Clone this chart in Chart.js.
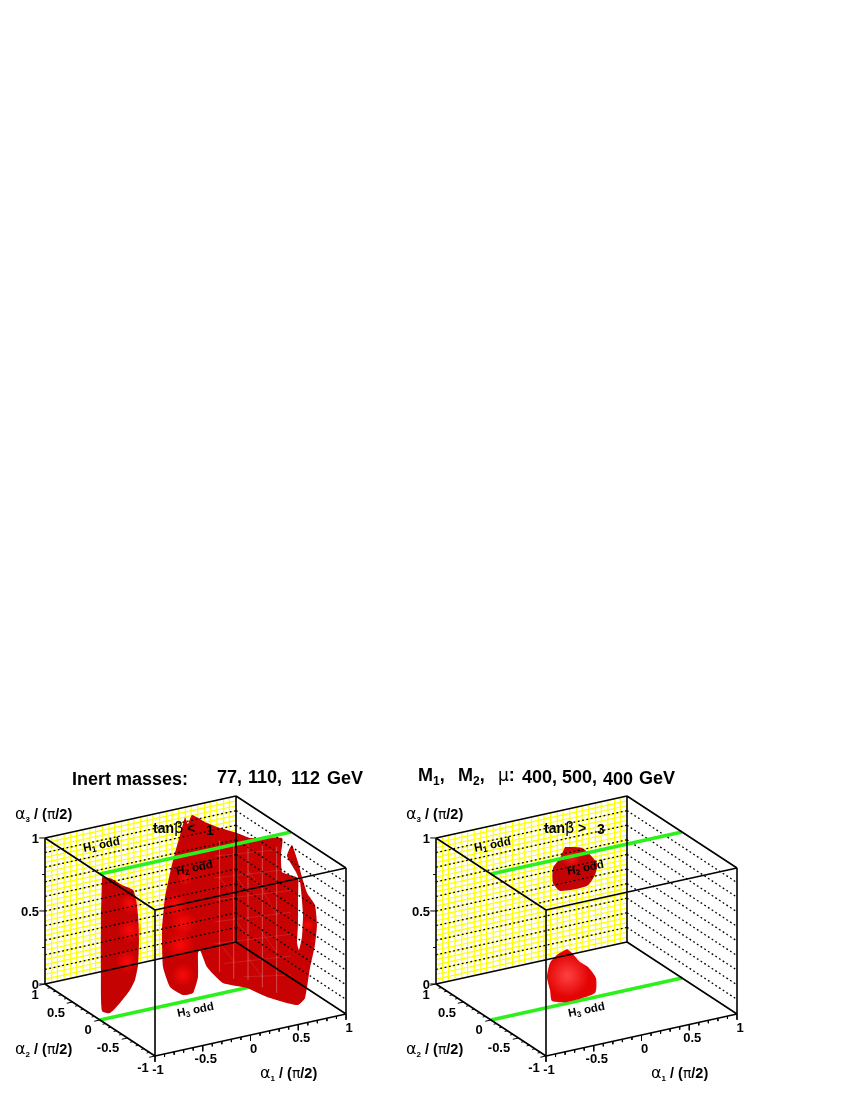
<!DOCTYPE html>
<html lang="en">

<head>
    <meta charset="UTF-8">
    <title>Inert masses</title>
    <script src="https://cdn.jsdelivr.net/npm/chart.js"></script>
    <style>
        body { margin: 0; background: #fff; }
        canvas { display: block; }
    </style>
</head>

<body>
    <canvas id="chart" width="845" height="1093"></canvas>

    <script>
        // axis ticks
        const a1Major = [-1, -0.5, 0, 0.5, 1];
        const a1Minor = [-0.9, -0.8, -0.7, -0.6, -0.4, -0.3, -0.2, -0.1, 0.1, 0.2, 0.3, 0.4, 0.6, 0.7, 0.8, 0.9];
        const a2Major = [-1, -0.5, 0, 0.5, 1];
        const a2Minor = [-0.9, -0.8, -0.7, -0.6, -0.4, -0.3, -0.2, -0.1, 0.1, 0.2, 0.3, 0.4, 0.6, 0.7, 0.8, 0.9];
        const a3Major = [0, 0.5, 1];
        const a3Minor = [0.25, 0.75];
        const a3Dotted = [0.1, 0.2, 0.3, 0.4, 0.5, 0.6, 0.7, 0.8, 0.9];
        const a1Labels = ['-1', '-0.5', '0', '0.5', '1'];
        const a2Labels = ['-1', '-0.5', '0', '0.5', '1'];
        const a3Labels = ['0', '0.5', '1'];

        // yellow wall grid
        const wallA1 = [-0.93, -0.87, -0.8, -0.73, -0.67, -0.6, -0.53, -0.47, -0.4, -0.33, -0.27, -0.2, -0.13, -0.07, 0, 0.07, 0.13, 0.2, 0.27, 0.33, 0.4, 0.47, 0.53, 0.6, 0.67, 0.73, 0.8, 0.87, 0.93];
        const wallA3 = [0.033, 0.067, 0.1, 0.133, 0.167, 0.2, 0.233, 0.267, 0.3, 0.333, 0.367, 0.4, 0.433, 0.467, 0.5, 0.533, 0.567, 0.6, 0.633, 0.667, 0.7, 0.733, 0.767, 0.8, 0.833, 0.867, 0.9, 0.933, 0.967];

        // allowed regions, [alpha1, alpha3] read on the alpha2 = 0 plane
        const leftBlobA = [[-0.979, 0.976], [-0.874, 0.948], [-0.77, 0.892], [-0.654, 0.841], [-0.623, 0.768], [-0.602, 0.662], [-0.592, 0.489], [-0.602, 0.319], [-0.634, 0.221], [-0.686, 0.16], [-0.791, 0.086], [-0.895, 0.033], [-0.979, 0.059], [-0.99, 0.341], [-0.99, 0.683]];
        const leftBlobB = [[-0.11, 1.262], [-0.079, 1.21], [-0.037, 1.265], [0.099, 1.198], [0.225, 1.146], [0.435, 1.074], [0.571, 1.021], [0.906, 0.972], [0.895, 0.857], [0.906, 0.739], [0.99, 0.707], [1.073, 0.674], [1.073, 0.524], [1.073, 0.352], [1.063, 0.231], [1.084, 0.18], [1.115, 0.264], [1.126, 0.413], [1.105, 0.588], [1.094, 0.644], [1.052, 0.718], [0.958, 0.842], [1.01, 0.909], [1.073, 0.784], [1.115, 0.675], [1.168, 0.558], [1.251, 0.464], [1.272, 0.324], [1.251, 0.19], [1.199, 0.04], [1.147, -0.158], [1.073, -0.196], [0.916, -0.152], [0.749, -0.094], [0.539, -0.002], [0.288, 0.068], [0.12, 0.202], [0.047, 0.329], [0.026, 0.311], [0.026, 0.147], [-0.026, 0.045], [-0.131, 0.046], [-0.267, 0.121], [-0.34, 0.268], [-0.351, 0.523], [-0.319, 0.745], [-0.267, 0.901], [-0.215, 1.031], [-0.162, 1.147]];
        const rightBlobC = [[-0.225, 1.073], [-0.047, 1.041], [0.11, 0.916], [0.089, 0.836], [0.005, 0.773], [-0.277, 0.78], [-0.351, 0.845], [-0.351, 0.948], [-0.277, 1.006]];
        const rightBlobD = [[-0.204, 0.372], [-0.152, 0.337], [-0.068, 0.263], [0.016, 0.217], [0.099, 0.129], [0.089, 0.028], [-0.204, 0.009], [-0.361, 0.038], [-0.382, 0.117], [-0.414, 0.21], [-0.382, 0.302], [-0.298, 0.351]];

        // faint surface mesh on the big region, [alpha1, alpha3, alpha1, alpha3]
        const meshLines = [
            [0.2, 0.95, 0.85, 0.9], [0.2, 0.8, 0.95, 0.75], [0.2, 0.65, 1.0, 0.6], [0.2, 0.5, 1.0, 0.45], [0.2, 0.35, 1.0, 0.3], [0.3, 0.2, 1.0, 0.15], [0.5, 0.08, 1.0, 0.02],
            [0.25, 1.05, 0.25, 0.15], [0.4, 1.0, 0.4, 0.08], [0.55, 0.98, 0.55, 0.05], [0.7, 0.95, 0.7, -0.02], [0.85, 0.92, 0.85, -0.08],
            [0.25, 0.8, 0.4, 0.65], [0.4, 0.5, 0.55, 0.35], [0.55, 0.8, 0.7, 0.65], [0.7, 0.35, 0.85, 0.2], [0.25, 0.35, 0.4, 0.2], [0.55, 0.2, 0.7, 0.05], [0.7, 0.65, 0.85, 0.45], [0.4, 0.8, 0.55, 0.65]
        ];

        // shading spots: [alpha1, alpha3, radius]
        const leftGlows = [[-0.11, 0.844, 8], [-0.215, 0.675, 13], [-0.162, 0.393, 15], [-0.131, 0.183, 12], [-0.131, 0.539, 14], [1.178, 0.337, 7], [-0.686, 0.571, 13], [-0.686, 0.75, 11], [-0.72, 0.36, 12]];
        const rightGlowsC = [[-0.16, 0.99, 10]];
        const rightGlowsD = [[-0.2, 0.19, 22]];

        const PANEL_SHIFT = 391;

        function project(a1, a2, a3, dx) {
            return {
                x: 155 + dx + (a1 + 1) * 95.5 - (a2 + 1) * 55,
                y: 1056 - (a1 + 1) * 21 - (a2 + 1) * 36 - a3 * 146
            };
        }

        function lineLayer(points, color, width, dash) {
            return {
                data: points, showLine: true, pointRadius: 0, borderColor: color,
                borderWidth: width, borderDash: dash || [], fill: false, tension: 0
            };
        }

        // several segments in one dataset, NaN point breaks the line
        function segments(list) {
            const pts = [];
            list.forEach(s => { pts.push(s[0], s[1], { x: NaN, y: NaN }); });
            return pts;
        }

        function blobLayer(outline, dx, color, tension) {
            const pts = outline.map(p => project(p[0], 0, p[1], dx));
            pts.push(pts[0]);
            return {
                data: pts, showLine: true, pointRadius: 0, borderWidth: 0, borderColor: color,
                backgroundColor: color, fill: 'shape', tension: tension
            };
        }

        // soft round sprite used as the point image
        function glowSprite(r, rgb) {
            const c = document.createElement('canvas');
            c.width = c.height = r * 2;
            const g2 = c.getContext('2d');
            const g = g2.createRadialGradient(r, r, 0, r, r, r);
            g.addColorStop(0, 'rgba(' + rgb + ',0.95)');
            g.addColorStop(1, 'rgba(' + rgb + ',0)');
            g2.fillStyle = g;
            g2.fillRect(0, 0, r * 2, r * 2);
            return c;
        }

        function glowLayer(spots, dx, rgb) {
            return {
                data: spots.map(s => project(s[0], 0, s[1], dx)),
                showLine: false,
                pointRadius: 1,
                pointStyle: spots.map(s => glowSprite(s[2], rgb))
            };
        }

        function panelBack(dx) {
            const walls = [];
            wallA1.forEach(a => walls.push([project(a, 1, 0, dx), project(a, 1, 1, dx)]));
            wallA3.forEach(a => walls.push([project(-1, 1, a, dx), project(1, 1, a, dx)]));
            return [
                lineLayer(segments(walls), '#ffff00', 1.2),
                lineLayer([project(-1, 0, 0, dx), project(1, 0, 0, dx)], '#2cf01c', 3.6)
            ];
        }

        function panelFront(dx) {
            const dots = [];
            a3Dotted.forEach(a => {
                dots.push([project(-1, 1, a, dx), project(1, 1, a, dx)]);
                dots.push([project(1, 1, a, dx), project(1, -1, a, dx)]);
            });
            const c = (a1, a2, a3) => project(a1, a2, a3, dx);
            const box = [
                [c(-1, 1, 1), c(1, 1, 1)], [c(1, 1, 1), c(1, -1, 1)], [c(1, -1, 1), c(-1, -1, 1)], [c(-1, -1, 1), c(-1, 1, 1)],
                [c(-1, 1, 0), c(1, 1, 0)], [c(1, 1, 0), c(1, -1, 0)], [c(1, -1, 0), c(-1, -1, 0)], [c(-1, -1, 0), c(-1, 1, 0)],
                [c(-1, 1, 0), c(-1, 1, 1)], [c(1, 1, 0), c(1, 1, 1)], [c(1, -1, 0), c(1, -1, 1)], [c(-1, -1, 0), c(-1, -1, 1)]
            ];
            const ticks = [];
            a1Major.forEach(a => ticks.push([c(a, -1, 0), c(a, -1, -0.04)]));
            a1Minor.forEach(a => ticks.push([c(a, -1, 0), c(a, -1, -0.02)]));
            a2Major.forEach(a => ticks.push([c(-1, a, 0), c(-1.06, a, 0)]));
            a2Minor.forEach(a => ticks.push([c(-1, a, 0), c(-1.03, a, 0)]));
            a3Major.forEach(a => ticks.push([c(-1, 1, a), c(-1.06, 1, a + 0.009)]));
            a3Minor.forEach(a => ticks.push([c(-1, 1, a), c(-1.03, 1, a + 0.004)]));
            return [
                lineLayer(segments(dots), '#000', 1.3, [1.8, 2.6]),
                lineLayer([c(-1, 0, 1), c(1, 0, 1)], '#2cf01c', 3.6),
                lineLayer(segments(box), '#000', 1.6),
                lineLayer(segments(ticks), '#000', 1)
            ];
        }

        const meshSegs = meshLines.map(m => [project(m[0], 0, m[1], 0), project(m[2], 0, m[3], 0)]);

        // bottom layer first
        const layers = [].concat(
            panelBack(0),
            panelBack(PANEL_SHIFT),
            [
                blobLayer(leftBlobB, 0, '#c80202', 0.15),
                blobLayer(leftBlobA, 0, '#c40202', 0.2),
                glowLayer(leftGlows, 0, '255,10,10'),
                lineLayer(segments(meshSegs), 'rgba(255,255,255,0.14)', 0.8),
                blobLayer(rightBlobC, PANEL_SHIFT, '#c40404', 0.2),
                glowLayer(rightGlowsC, PANEL_SHIFT, '255,30,30'),
                blobLayer(rightBlobD, PANEL_SHIFT, '#e40404', 0.2),
                glowLayer(rightGlowsD, PANEL_SHIFT, '255,70,70')
            ],
            panelFront(0),
            panelFront(PANEL_SHIFT)
        );

        const BOLD = 'bold 13px "Liberation Sans"';
        const BOLD_TAN = 'bold 14px "Liberation Sans"';
        const BOLD_AXIS = 'bold 14.5px "Liberation Sans"';
        const SMALL = 'bold 11.5px "Liberation Sans"';
        const SUB = 'bold 8px "Liberation Sans"';
        const GREEK = '16px "DejaVu Sans"';
        const TITLE = 'bold 18px "Liberation Sans"';
        const TITLE_SUB = 'bold 12px "Liberation Sans"';

        // parts are [text, font, vertical shift]
        function rich(ctx, parts, x, y, angle) {
            ctx.save();
            ctx.translate(x, y);
            ctx.rotate(angle || 0);
            ctx.fillStyle = '#000';
            ctx.textAlign = 'left';
            ctx.textBaseline = 'alphabetic';
            let at = 0;
            parts.forEach(p => {
                ctx.font = p[1];
                ctx.fillText(p[0], at, p[2]);
                at += ctx.measureText(p[0]).width;
            });
            ctx.restore();
        }

        function centered(ctx, text, x, y) {
            ctx.font = BOLD;
            ctx.fillStyle = '#000';
            ctx.textAlign = 'center';
            ctx.textBaseline = 'middle';
            ctx.fillText(text, x, y);
        }

        function axisTitle(ctx, n, x, y) {
            rich(ctx, [['α', GREEK, 0], [n, SUB, 3], [' / (', BOLD_AXIS, 0], ['π', '14px "DejaVu Sans"', 0], ['/2)', BOLD_AXIS, 0]], x, y);
        }

        function panelText(ctx, dx) {
            const tilt = -0.2;
            axisTitle(ctx, '3', 15 + dx, 819);
            axisTitle(ctx, '2', 15 + dx, 1054);
            axisTitle(ctx, '1', 260 + dx, 1078);

            a3Labels.forEach((t, i) => {
                const p = project(-1, 1, a3Major[i], dx);
                ctx.font = BOLD;
                ctx.fillStyle = '#000';
                ctx.textAlign = 'right';
                ctx.textBaseline = 'middle';
                ctx.fillText(t, p.x - 6, p.y + 1);
            });
            a1Labels.forEach((t, i) => {
                const p = project(a1Major[i], -1, 0, dx);
                centered(ctx, t, p.x + 3, p.y + 14);
            });
            const a2Pos = [[143, 1068], [108, 1048], [88, 1030], [56, 1013], [35, 995]];
            a2Labels.forEach((t, i) => {
                centered(ctx, t, a2Pos[i][0] + dx, a2Pos[i][1]);
            });

            rich(ctx, [['H', SMALL, 0], ['1', SUB, 2], [' odd', SMALL, 0]], 84 + dx, 852, tilt);
            rich(ctx, [['H', SMALL, 0], ['2', SUB, 2], [' odd', SMALL, 0]], 177 + dx, 875, tilt);
            rich(ctx, [['H', SMALL, 0], ['3', SUB, 2], [' odd', SMALL, 0]], 178 + dx, 1017, tilt);
            rich(ctx, [['tan', BOLD_TAN, 0], ['β', '15px "DejaVu Sans"', 0]], 153 + dx, 833);
        }

        const textPlugin = {
            id: 'panelText',
            afterDatasetsDraw(chart) {
                const ctx = chart.ctx;
                panelText(ctx, 0);
                panelText(ctx, PANEL_SHIFT);
                rich(ctx, [['<', BOLD_TAN, 0]], 187, 833);
                rich(ctx, [['1', BOLD_TAN, 0]], 206, 835);
                rich(ctx, [['>', BOLD_TAN, 0]], 578, 833);
                rich(ctx, [['3', BOLD_TAN, 0]], 597, 834);

                rich(ctx, [['Inert masses:', TITLE, 0]], 72, 785);
                rich(ctx, [['77,', TITLE, 0]], 217, 783);
                rich(ctx, [['110,', TITLE, 0]], 248, 783);
                rich(ctx, [['112', TITLE, 0]], 291, 784);
                rich(ctx, [['GeV', TITLE, 0]], 327, 784);
                rich(ctx, [['M', TITLE, 0], ['1', TITLE_SUB, 4], [',', TITLE, 0]], 418, 781);
                rich(ctx, [['M', TITLE, 0], ['2', TITLE_SUB, 4], [',', TITLE, 0]], 458, 781);
                rich(ctx, [['μ', '17px "DejaVu Sans"', 0], [':', TITLE, 0]], 498, 781);
                rich(ctx, [['400,', TITLE, 0]], 522, 783);
                rich(ctx, [['500,', TITLE, 0]], 562, 783);
                rich(ctx, [['400', TITLE, 0]], 603, 785);
                rich(ctx, [['GeV', TITLE, 0]], 639, 784);
            }
        };

        new Chart(document.getElementById('chart'), {
            type: 'scatter',
            data: { datasets: layers.reverse() },
            options: {
                responsive: false,
                animation: false,
                layout: { padding: 0, autoPadding: false },
                plugins: { legend: { display: false }, tooltip: { enabled: false } },
                scales: {
                    x: { display: false, min: 0, max: 845 },
                    y: { display: false, min: 0, max: 1093, reverse: true }
                }
            },
            plugins: [textPlugin]
        });
    </script>
</body>

</html>
